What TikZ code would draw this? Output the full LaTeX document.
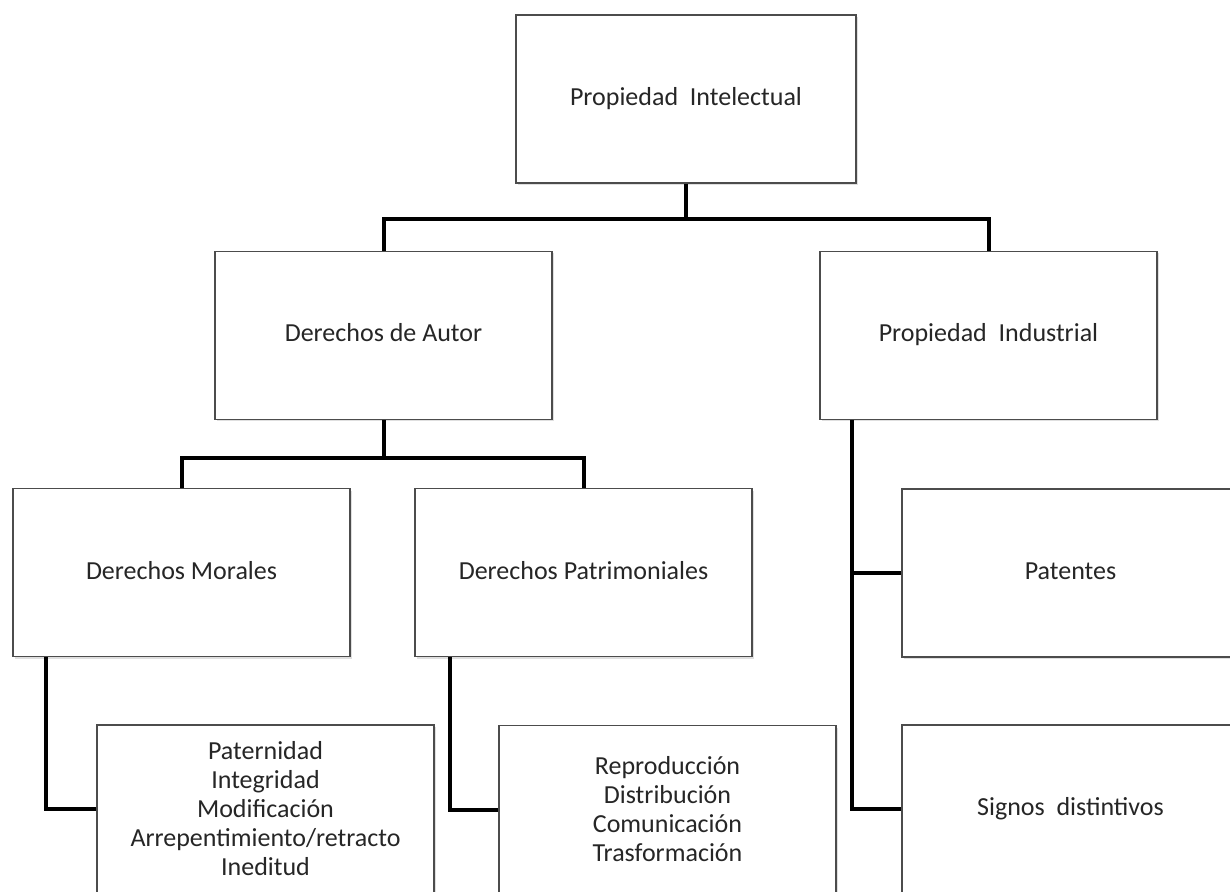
\documentclass[tikz,border=0pt]{standalone}
\usepackage{fontspec}
\setmainfont{Carlito}
\usetikzlibrary{shadows}

\tikzset{
	listbox/.style={rectangle, draw=black!70, line width=0.8pt, fill=white, align=center,
		minimum width=168.5pt, minimum height=84pt, inner sep=0pt, text=black!85,
		font=\fontsize{13}{14.5}\selectfont,
		drop shadow={shadow xshift=1pt, shadow yshift=-1pt, opacity=0.25}},
	box/.style={listbox, text height=9.5pt, text depth=3pt},
	conn/.style={line width=2pt, black}
}

\begin{document}
\begin{tikzpicture}[x=0.5pt, y=-0.5pt]
	\useasboundingbox (0,0) rectangle (1230,892);
	\clip (0,0) rectangle (1230,892);

	% level 1
	\node[box, minimum width=170pt] (pi) at (686,99) {Propiedad\ \ Intelectual};

	% level 2
	\node[box] (da) at (383.5,335.5) {Derechos de Autor};
	\node[box] (pind) at (988.5,335.5) {Propiedad\ \ Industrial};

	% level 3
	\node[box] (dm) at (181.5,572.5) {Derechos Morales};
	\node[box] (dp) at (583.5,572.5) {Derechos Patrimoniales};
	\node[box] (pat) at (1070.5,573) {Patentes};

	% level 4
	\node[listbox] (lmor) at (265.5,809) {Paternidad\\Integridad\\Modificación\\Arrepentimiento/retracto\\Ineditud};
	\node[listbox] (lpat) at (667.5,809.5) {Reproducción\\Distribución\\Comunicación\\Trasformación};
	\node[box] (sig) at (1070.5,809) {Signos\ \ distintivos};

	% connectors
	\draw[conn] (pi.south) -- ++(0,35) coordinate (j1);
	\draw[conn] (da.north) -- (da.north |- j1) -| (pind.north);
	\draw[conn] (da.south) -- ++(0,38) coordinate (j2);
	\draw[conn] (dm.north) -- (dm.north |- j2) -| (dp.north);

	\draw[conn] ([xshift=17pt]dm.south west) coordinate (bm) |- (lmor.west);
	\draw[conn] ([xshift=18pt]dp.south west) coordinate (bp) |- (lpat.west);
	\draw[conn] ([xshift=16.5pt]pind.south west) coordinate (bi) |- (sig.west);
	\draw[conn] (bi |- pat.west) -- (pat.west);
\end{tikzpicture}
\end{document}
